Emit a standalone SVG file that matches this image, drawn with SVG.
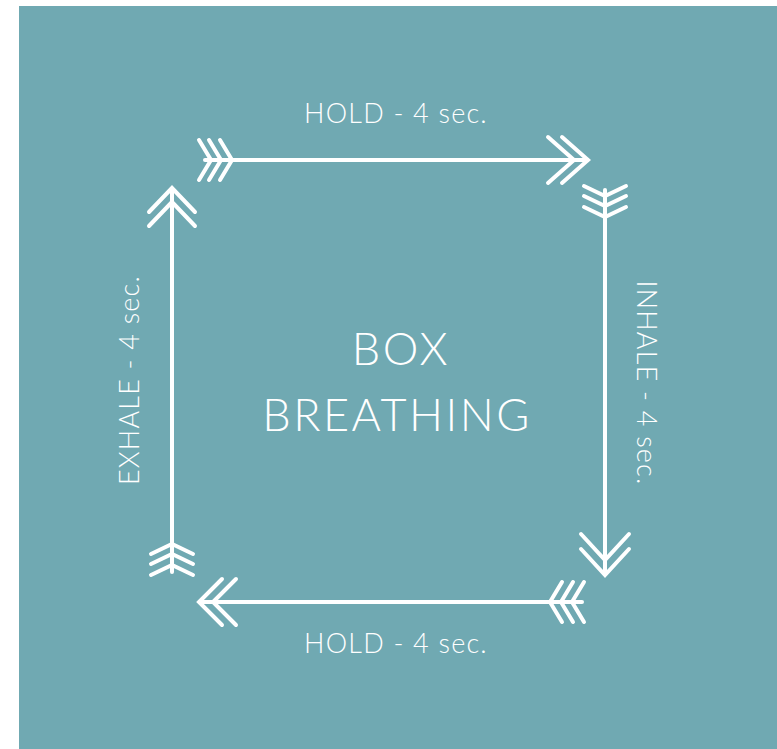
<svg xmlns="http://www.w3.org/2000/svg" width="777" height="749" viewBox="0 0 777 749">
<style>
.t{fill:#ffffff;font-family:Lato,"Open Sans","Liberation Sans",sans-serif;font-weight:300;text-anchor:middle}
.s{font-size:27px;letter-spacing:1.2px}
.b{font-size:45px;letter-spacing:2.5px}
.a{stroke:#ffffff;stroke-width:4;fill:none;stroke-linecap:round;stroke-linejoin:miter}
</style>
<rect x="0" y="0" width="777" height="749" fill="#ffffff"/>
<rect id="bg" x="19" y="6" width="758" height="743" fill="#70a9b2"/>
<g id="connectors">
<g id="top-arrow" class="a">
<line x1="205" y1="160" x2="586" y2="160"/>
<polyline points="199,140 211,160 199,180"/>
<polyline points="209,140 221,160 209,180"/>
<polyline points="220,140 232,160 220,180"/>
<polyline points="548,137 574,160 548,183"/>
<polyline points="562,137 588,160 562,183"/>
</g>
<g id="right-arrow" class="a">
<line x1="605" y1="190" x2="605" y2="574"/>
<polyline points="584,186 605,196 626,186"/>
<polyline points="584,196 605,206 626,196"/>
<polyline points="584,207 605,217 626,207"/>
<polyline points="581,534 605,560 629,534"/>
<polyline points="581,549 605,575 629,549"/>
</g>
<g id="bottom-arrow" class="a">
<line x1="200" y1="602" x2="582" y2="602"/>
<polyline points="222,579 199,602 222,625"/>
<polyline points="236,579 213,602 236,625"/>
<polyline points="562,582 550,602 562,622"/>
<polyline points="573,582 561,602 573,622"/>
<polyline points="584,582 572,602 584,622"/>
</g>
<g id="left-arrow" class="a">
<line x1="172" y1="189" x2="172" y2="572"/>
<polyline points="149,212 172,188 195,212"/>
<polyline points="149,226 172,202 195,226"/>
<polyline points="151,554 172,544 193,554"/>
<polyline points="151,564 172,554 193,564"/>
<polyline points="151,575 172,565 193,575"/>
</g>
</g>
<g id="label-hold-top"><text class="t s" x="396" y="123">HOLD - 4 sec.</text></g>
<g id="label-hold-bottom"><text class="t s" x="396" y="653">HOLD - 4 sec.</text></g>
<g id="label-exhale"><text class="t s" transform="translate(139,380) rotate(-90)">EXHALE - 4 sec.</text></g>
<g id="label-inhale"><text class="t s" transform="translate(637,383) rotate(90)">INHALE - 4 sec.</text></g>
<g id="title">
<text class="t b" x="401" y="365">BOX</text>
<text class="t b" x="397" y="431">BREATHING</text>
</g>
</svg>
